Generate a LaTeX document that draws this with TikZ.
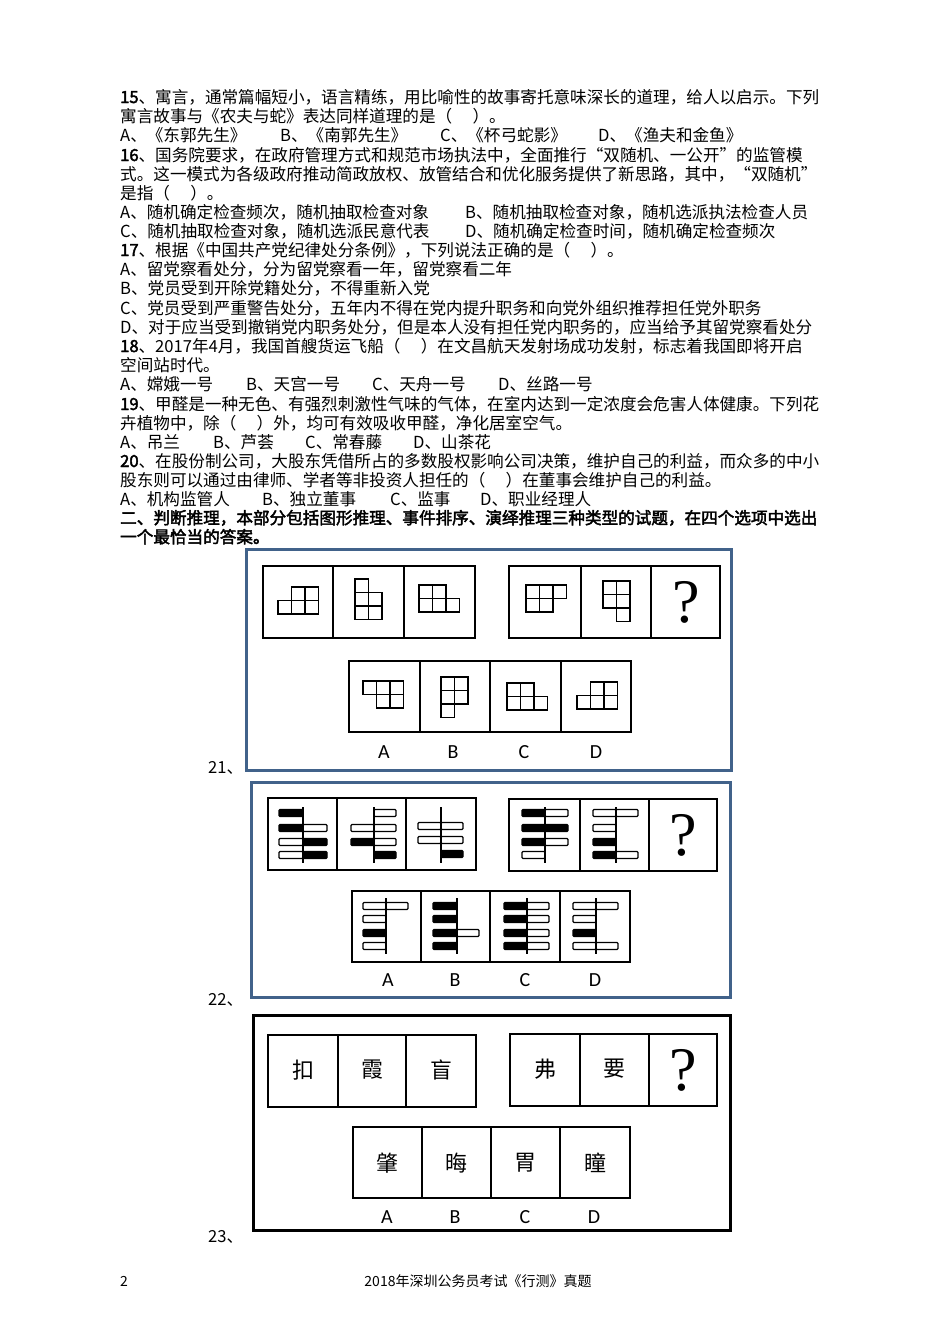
\documentclass[tikz,border=0pt]{standalone}
\usepackage{fontspec}
\setmainfont{Noto Sans CJK SC}[AutoFakeBold=2.5]
\newfontfamily\lab{Carlito}
\newfontfamily\qf{Liberation Serif}
\definecolor{frameblue}{RGB}{65,98,138}
\newcommand\cellsq[3]{\foreach \c/\r in {#3} \draw[line width=1.5pt] (#1+\c*13.5,#2+\r*13.5) rectangle ++(13.5,13.5);}
\newcommand\bpanel[5]{\foreach \yy/\ls/\rs in {#5} {\draw[\ls] (#2,\yy-3.5) rectangle (#1,\yy+3.5); \draw[\rs] (#1,\yy-3.5) rectangle (#3,\yy+3.5);}
 \draw[line width=1.3pt] (#1,#4) -- (#1,#4+56);}
\begin{document}
\begin{tikzpicture}[x=1pt,y=-1pt,
  txt/.style={anchor=base west,inner sep=0pt,font=\fontsize{16.6}{18}\selectfont},
  cellbox/.style={draw,line width=1.2pt},
  bb/.style={draw,line width=1.2pt,fill=black,rounded corners=1pt},
  ww/.style={draw,line width=1.2pt,fill=white,rounded corners=1pt},
  nn/.style={draw=none},
  optl/.style={font=\lab\fontsize{20}{22}\selectfont,inner sep=0pt},
  qm/.style={font=\qf\fontsize{62}{62}\selectfont,inner sep=0pt},
  hz/.style={font=\fontsize{22}{24}\selectfont,inner sep=0pt}]
\useasboundingbox[fill=white] (0,0) rectangle (950,1344);
% ---- text
\node[txt] (l1) at (120,103) {\textbf{15}、寓言，通常篇幅短小，语言精练，用比喻性的故事寄托意味深长的道理，给人以启示。下列};
\node[txt] (l2) at (120,122) {寓言故事与《农夫与蛇》表达同样道理的是（\quad\ ）。};
\node[txt] (l3a) at (120,141) {A、《东郭先生》};
\node[txt] (l3b) at (280,141) {B、《南郭先生》};
\node[txt] (l3c) at (440,141) {C、《杯弓蛇影》};
\node[txt] (l3d) at (598,141) {D、《渔夫和金鱼》};
\node[txt] (l4) at (120,161) {\textbf{16}、国务院要求，在政府管理方式和规范市场执法中，全面推行“双随机、一公开”的监管模};
\node[txt] (l5) at (120,180) {式。这一模式为各级政府推动简政放权、放管结合和优化服务提供了新思路，其中，“双随机”};
\node[txt] (l6) at (120,199) {是指（\quad\ ）。};
\node[txt] (l7a) at (120,218) {A、随机确定检查频次，随机抽取检查对象};
\node[txt] (l7b) at (465,218) {B、随机抽取检查对象，随机选派执法检查人员};
\node[txt] (l8a) at (120,237) {C、随机抽取检查对象，随机选派民意代表};
\node[txt] (l8b) at (465,237) {D、随机确定检查时间，随机确定检查频次};
\node[txt] (l9) at (120,256) {\textbf{17}、根据《中国共产党纪律处分条例》，下列说法正确的是（\quad\ ）。};
\node[txt] (l10) at (120,275) {A、留党察看处分，分为留党察看一年，留党察看二年};
\node[txt] (l11) at (120,294) {B、党员受到开除党籍处分，不得重新入党};
\node[txt] (l12) at (120,314) {C、党员受到严重警告处分，五年内不得在党内提升职务和向党外组织推荐担任党外职务};
\node[txt] (l13) at (120,333) {D、对于应当受到撤销党内职务处分，但是本人没有担任党内职务的，应当给予其留党察看处分};
\node[txt] (l14) at (120,352) {\textbf{18}、2017年4月，我国首艘货运飞船（\quad\ ）在文昌航天发射场成功发射，标志着我国即将开启};
\node[txt] (l15) at (120,371) {空间站时代。};
\node[txt] (l16a) at (120,390) {A、嫦娥一号};
\node[txt] (l16b) at (246,390) {B、天宫一号};
\node[txt] (l16c) at (372,390) {C、天舟一号};
\node[txt] (l16d) at (498,390) {D、丝路一号};
\node[txt] (l17) at (120,410) {\textbf{19}、甲醛是一种无色、有强烈刺激性气味的气体，在室内达到一定浓度会危害人体健康。下列花};
\node[txt] (l18) at (120,429) {卉植物中，除（\quad\ ）外，均可有效吸收甲醛，净化居室空气。};
\node[txt] (l19a) at (120,448) {A、吊兰};
\node[txt] (l19b) at (213,448) {B、芦荟};
\node[txt] (l19c) at (305,448) {C、常春藤};
\node[txt] (l19d) at (413,448) {D、山茶花};
\node[txt] (l20) at (120,467) {\textbf{20}、在股份制公司，大股东凭借所占的多数股权影响公司决策，维护自己的利益，而众多的中小};
\node[txt] (l21) at (120,486) {股东则可以通过由律师、学者等非投资人担任的（\quad\ ）在董事会维护自己的利益。};
\node[txt] (l22a) at (120,505) {A、机构监管人};
\node[txt] (l22b) at (262,505) {B、独立董事};
\node[txt] (l22c) at (390,505) {C、监事};
\node[txt] (l22d) at (480,505) {D、职业经理人};
\node[txt] (l23) at (120,524) {\textbf{二、判断推理，本部分包括图形推理、事件排序、演绎推理三种类型的试题，在四个选项中选出}};
\node[txt] (l24) at (120,543) {\textbf{一个最恰当的答案。}};
% ---- figure 21
\draw[frameblue,line width=3pt] (246,549) rectangle (731,770);
\draw[cellbox] (263,566) rectangle (475,638); \draw[cellbox] (333,566)--(333,638) (404,566)--(404,638);
\draw[cellbox] (509,566) rectangle (720,638); \draw[cellbox] (581,566)--(581,638) (651,566)--(651,638);
\draw[cellbox] (349,661) rectangle (631,732); \draw[cellbox] (420,661)--(420,732) (490,661)--(490,732) (561,661)--(561,732);
\cellsq{278}{587}{0/1,1/1,2/1,1/0,2/0}
\cellsq{355}{579}{0/0,0/1,0/2,1/1,1/2}
\cellsq{419}{585}{0/0,1/0,0/1,1/1,2/1}
\cellsq{526}{585}{0/0,1/0,2/0,0/1,1/1}
\cellsq{603}{581}{0/0,1/0,0/1,1/1,1/2}
\cellsq{363}{681}{0/0,1/0,2/0,1/1,2/1}
\cellsq{441}{677}{0/0,0/1,0/2,1/0,1/1}
\cellsq{507}{683}{0/0,1/0,0/1,1/1,2/1}
\cellsq{577}{682}{1/0,2/0,0/1,1/1,2/1}
\node[qm] (q1) at (686,602) {?};
\node[optl] (a1) at (384,752) {A}; \node[optl] (b1) at (453,752) {B};
\node[optl] (c1) at (524,752) {C}; \node[optl] (d1) at (596,752) {D};
\node[txt] (n21) at (208,773) {21、};
% ---- figure 22
\draw[frameblue,line width=3pt] (251,782) rectangle (730,997);
\draw[cellbox] (268,798) rectangle (476,870); \draw[cellbox] (337,798)--(337,870) (406,798)--(406,870);
\draw[cellbox] (509,799) rectangle (717,871); \draw[cellbox] (580,799)--(580,871) (649,799)--(649,871);
\draw[cellbox] (352,891) rectangle (630,962); \draw[cellbox] (421,891)--(421,962) (490,891)--(490,962) (560,891)--(560,962);
\bpanel{303}{279}{327}{807}{813/bb/nn,828/bb/ww,842/ww/bb,855/ww/bb}
\bpanel{374}{351}{396}{807}{813/nn/ww,828/ww/ww,842/bb/ww,855/nn/bb}
\bpanel{441}{418}{463}{807}{826/ww/ww,840/ww/ww,854/nn/bb}
\bpanel{545}{522}{568}{807}{813/bb/ww,828/bb/bb,842/bb/ww,855/ww/nn}
\bpanel{616}{593}{638}{807}{813/ww/ww,828/ww/nn,842/bb/nn,855/bb/ww}
\bpanel{386}{363}{408}{898}{906/ww/ww,919/ww/nn,933/bb/nn,946/ww/nn}
\bpanel{457}{433}{479}{898}{906/bb/nn,919/bb/nn,933/bb/ww,946/bb/nn}
\bpanel{527}{504}{549}{898}{906/bb/ww,919/bb/ww,933/bb/ww,946/bb/ww}
\bpanel{596}{573}{618}{898}{906/ww/ww,919/ww/nn,933/bb/nn,946/ww/ww}
\node[qm] (q2) at (683,835) {?};
\node[optl] (a2) at (388,980) {A}; \node[optl] (b2) at (455,980) {B};
\node[optl] (c2) at (525,980) {C}; \node[optl] (d2) at (595,980) {D};
\node[txt] (n22) at (208,1005) {22、};
% ---- figure 23
\draw[black,line width=3pt] (253,1015) rectangle (730,1230);
\draw[cellbox] (268,1035) rectangle (476,1107); \draw[cellbox] (338,1035)--(338,1107) (406,1035)--(406,1107);
\draw[cellbox] (510,1034) rectangle (717,1106); \draw[cellbox] (580,1034)--(580,1106) (649,1034)--(649,1106);
\draw[cellbox] (353,1127) rectangle (630,1198); \draw[cellbox] (422,1127)--(422,1198) (491,1127)--(491,1198) (560,1127)--(560,1198);
\node[hz] (h1) at (303,1070) {扣}; \node[hz] (h2) at (372,1070) {霞}; \node[hz] (h3) at (441,1070) {盲};
\node[hz] (h4) at (545,1069) {弗}; \node[hz] (h5) at (614,1069) {要};
\node[qm] (q3) at (683,1070) {?};
\node[hz] (h6) at (387,1163) {肇}; \node[hz] (h7) at (456,1163) {晦}; \node[hz] (h8) at (525,1163) {胃}; \node[hz] (h9) at (595,1163) {瞳};
\node[optl] (a3) at (387,1217) {A}; \node[optl] (b3) at (455,1217) {B};
\node[optl] (c3) at (525,1217) {C}; \node[optl] (d3) at (594,1217) {D};
\node[txt] (n23) at (208,1242) {23、};
% ---- footer
\node[txt,font=\fontsize{14}{16}\selectfont] (pg) at (120,1286) {2};
\node[anchor=base,inner sep=0pt,font=\fontsize{14}{16}\selectfont] (ft) at (478,1286) {2018年深圳公务员考试《行测》真题};
\end{tikzpicture}
\end{document}
